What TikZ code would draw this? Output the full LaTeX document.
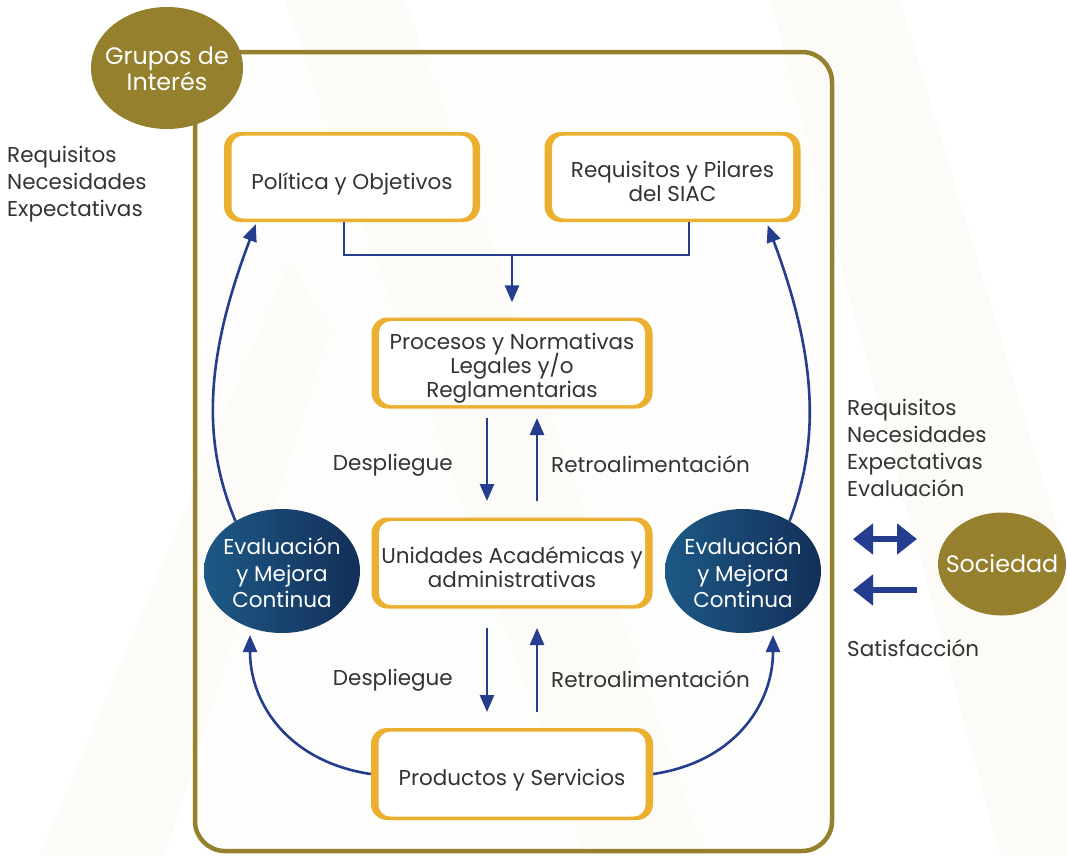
\documentclass[tikz,border=0pt]{standalone}
\usepackage{fontspec}
\setmainfont{Poppins}
\usetikzlibrary{arrows.meta,shapes.geometric}
\definecolor{olive}{HTML}{94802D}
\definecolor{boxgold}{HTML}{EBB02F}
\definecolor{arrowblue}{HTML}{243D8F}
\definecolor{txt}{HTML}{333333}
\definecolor{ellL}{HTML}{1D5986}
\definecolor{ellR}{HTML}{132F58}
\definecolor{wm}{HTML}{FDFBF7}
\definecolor{framebg}{HTML}{FDFCFA}
\lineskiplimit=-30pt
\begin{document}
\begin{tikzpicture}[x=1pt,y=-1pt,
  outerbox/.style={fill=boxgold, rounded corners=16pt, inner sep=0pt},
  innerbox/.style={fill=white, rounded corners=12pt, inner sep=0pt},
  boxtext/.style={text=txt, align=center, inner sep=0pt, font=\fontsize{21.5}{24}\selectfont},
  bluearrow/.style={draw=arrowblue, line width=2.6pt, -{Triangle[length=17pt,width=14pt]}},
  blueline/.style={draw=arrowblue, line width=2.6pt},
  bigarrow/.style={draw=arrowblue, line width=6.5pt},
  blueell/.style={ellipse, left color=ellL, right color=ellR, minimum width=156pt, minimum height=124pt, inner sep=0pt},
  elltext/.style={text=white, align=center, inner sep=0pt, font=\fontsize{21.5}{26.5}\selectfont},
  goldell/.style={ellipse, fill=olive, inner sep=0pt},
  goldtext/.style={text=white, align=center, inner sep=0pt, font=\fontsize{23.8}{26}\selectfont},
  sidetext/.style={text=txt, align=left, inner sep=0pt, font=\fontsize{21.5}{27}\selectfont},
]
\useasboundingbox (0,0) rectangle (1067,855);
\fill[white] (0,0) rectangle (1067,855);
% faint watermark
\fill[wm] (285,0) -- (405,0) -- (705,855) -- (585,855) -- cycle;
\fill[wm] (770,0) -- (900,0) -- (1067,560) -- (1067,855) -- (1000,855) -- cycle;
\fill[wm] (40,855) -- (165,855) -- (330,330) -- (290,260) -- cycle;
% frame
\draw[olive, line width=4.5pt, rounded corners=30pt, fill=framebg, fill opacity=0.6, draw opacity=1] (195,52) rectangle (832,851);
\node[goldell, minimum width=152pt, minimum height=122pt] (grupos) at (167,68) {};
\node[goldtext] (grupost) at ([yshift=-1pt]grupos.center) {Grupos de\\Interés};

% boxes
\node[outerbox, minimum width=256pt, minimum height=90pt] (pol) at (352,177) {};
\node[innerbox, minimum width=241pt, minimum height=83pt] (polw) at (pol) {};
\node[boxtext] (polt) at ([yshift=-7pt]pol.center) {Política y Objetivos};

\node[outerbox, minimum width=256pt, minimum height=90pt] (req) at (672.5,177) {};
\node[innerbox, minimum width=241pt, minimum height=83pt] (reqw) at (req) {};
\node[boxtext] (reqt) at ([yshift=-4pt]req.center) {Requisitos y Pilares\\del SIAC};

\node[outerbox, minimum width=281pt, minimum height=91pt] (proc) at (512,363) {};
\node[innerbox, minimum width=266pt, minimum height=84pt] (procw) at (proc) {};
\node[boxtext] (proct) at ([yshift=-5pt]proc.center) {Procesos y Normativas\\Legales y/o\\Reglamentarias};

\node[outerbox, minimum width=281pt, minimum height=91pt] (unid) at (512,563) {};
\node[innerbox, minimum width=266pt, minimum height=84pt] (unidw) at (unid) {};
\node[boxtext] (unidt) at ([yshift=-4pt]unid.center) {Unidades Académicas y\\administrativas};

\node[outerbox, minimum width=282pt, minimum height=92pt] (prod) at (512,774) {};
\node[innerbox, minimum width=267pt, minimum height=85pt] (prodw) at (prod) {};
\node[boxtext] (prodt) at ([yshift=-6pt]prod.center) {Productos y Servicios};

% blue ellipses
\node[blueell] (evl) at (282,571) {};
\node[elltext] (evlt) at ([yshift=-2pt]evl.center) {Evaluación\\y Mejora\\Continua};
\node[blueell] (evr) at (743,571) {};
\node[elltext] (evrt) at ([yshift=-2pt]evr.center) {Evaluación\\y Mejora\\Continua};

% Sociedad
\node[goldell, minimum width=128pt, minimum height=103pt] (soc) at (1002,564) {};
\node[goldtext] (soct) at (soc.center) {Sociedad};

% side texts
\node[sidetext, anchor=west] (lreq) at (7,184) {Requisitos\\Necesidades\\Expectativas};
\node[sidetext, anchor=west] (rreq) at (847,448) {Requisitos\\Necesidades\\Expectativas\\Evaluación};
\node[sidetext, anchor=west] (sat) at (847,648) {Satisfacción};
\node[sidetext, anchor=east] (desp1) at (453,465) {Despliegue};
\node[sidetext, anchor=west] (retro1) at (551,464) {Retroalimentación};
\node[sidetext, anchor=east] (desp2) at (453,680) {Despliegue};
\node[sidetext, anchor=west] (retro2) at (551,679) {Retroalimentación};

% top connector
\coordinate (j) at (512,255);
\draw[blueline] ([xshift=-8pt]pol.south) |- (j) -| ([xshift=16.5pt]req.south);
\draw[bluearrow] (j) -- ([yshift=15pt]proc.north);

% despliegue / retroalimentacion
\coordinate (d1a) at (487,418); \coordinate (d1b) at (487,501);
\coordinate (r1a) at (537,501); \coordinate (r1b) at (537,418);
\coordinate (d2a) at (487,628); \coordinate (d2b) at (487,712);
\coordinate (r2a) at (537,712); \coordinate (r2b) at (537,628);
\draw[bluearrow] (d1a) -- (d1b);
\draw[bluearrow] (r1a) -- (r1b);
\draw[bluearrow] (d2a) -- (d2b);
\draw[bluearrow] (r2a) -- (r2b);

% curves
\draw[bluearrow] (evl.133) .. controls (206,450) and (200,370) .. ([xshift=32pt,yshift=-2pt]pol.south west);
\draw[bluearrow] (evr.47) .. controls (816,450) and (822,370) .. ([xshift=-33pt,yshift=-3pt]req.south east);
\coordinate (tl) at (250,635);
\coordinate (tr) at (773,635);
\draw[bluearrow] (prod.west) .. controls (290,762) and (250,705) .. (tl);
\draw[bluearrow] (prod.east) .. controls (734,762) and (773,705) .. (tr);

% sociedad arrows
\coordinate (s1a) at (853,539); \coordinate (s1b) at (917,539);
\coordinate (s2a) at (917,590); \coordinate (s2b) at (853,590);
\draw[bigarrow, {Triangle[length=20pt,width=30pt]}-{Triangle[length=20pt,width=30pt]}] (s1a) -- (s1b);
\draw[bigarrow, -{Triangle[length=20pt,width=30pt]}] (s2a) -- (s2b);
\end{tikzpicture}
\end{document}
